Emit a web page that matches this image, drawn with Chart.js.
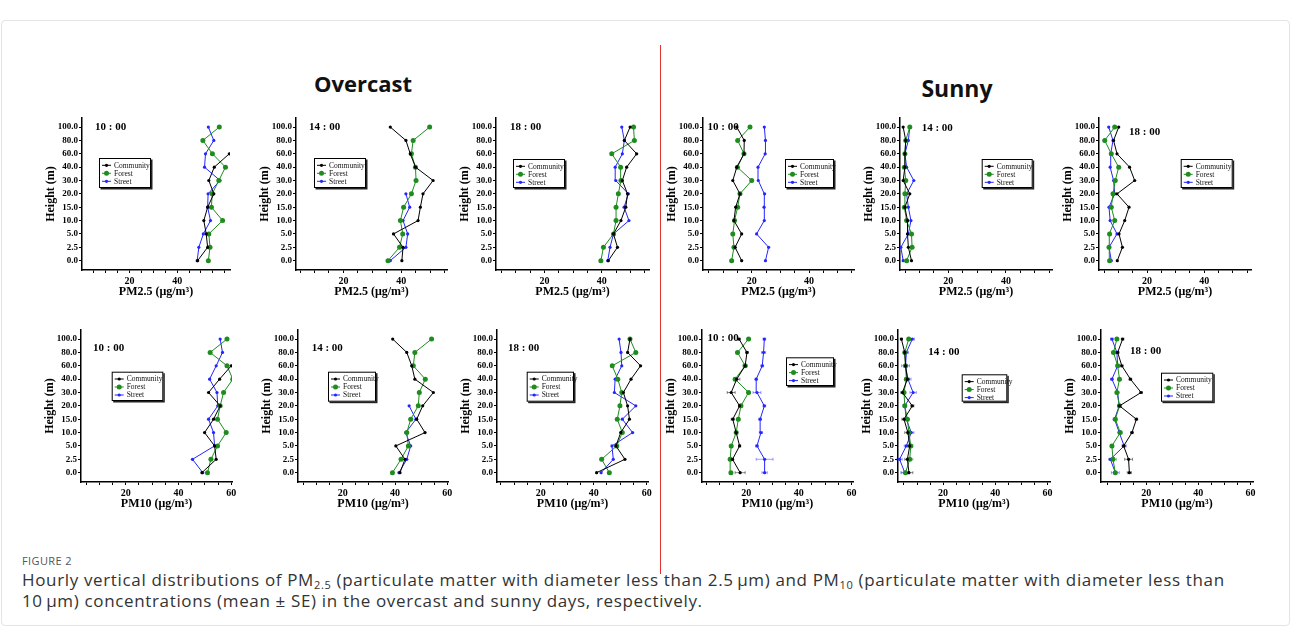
<!DOCTYPE html>
<html>
<head>
<meta charset="utf-8">
<script src="https://cdn.jsdelivr.net/npm/chart.js@4/dist/chart.umd.min.js"></script>
<style>
  body { margin: 0; background: #fff; width: 1291px; height: 637px; position: relative; overflow: hidden; font-family: 'Open Sans', sans-serif; }
  .frame { position: absolute; left: 1px; top: 20px; width: 1287px; height: 604px; border: 1px solid #e4e4e4; border-radius: 4px; }
  canvas { position: absolute; }
  .title { position: absolute; font-weight: 700; font-size: 22px; color: #111; transform: translateX(-50%); white-space: nowrap; }
  .divider { position: absolute; left: 660px; top: 45px; width: 1px; height: 529px; background: #e3312f; }
  .fig { position: absolute; left: 22px; top: 553px; font-size: 11px; color: #555; letter-spacing: 0.4px; }
  .cap { position: absolute; left: 22px; top: 569px; width: 1260px; font-size: 17px; letter-spacing: 0.65px; line-height: 21px; color: #333; white-space: nowrap; }
  .cap sub { font-size: 11px; vertical-align: -3px; line-height: 0; }
</style>
</head>
<body>
<div class="frame"></div>
<div class="title" style="left:363px;top:68px;">Overcast</div>
<div class="title" style="left:957px;top:72px;font-size:23px;">Sunny</div>
<div class="divider"></div>
<div class="fig">FIGURE 2</div>
<div class="cap">Hourly vertical distributions of PM<sub>2.5</sub> (particulate matter with diameter less than 2.5&#8201;&mu;m) and PM<sub>10</sub> (particulate matter with diameter less than<br>10&#8201;&mu;m) concentrations (mean &plusmn; SE) in the overcast and sunny days, respectively.</div>

<script>
/* ---------- data ---------- */
const heightLabels = ['0.0', '2.5', '5.0', '10.0', '15.0', '20.0', '30.0', '40.0', '60.0', '80.0', '100.0'];
const seriesNames = ['Community', 'Forest', 'Street'];

// PM2.5 overcast
const ov25_10_community = [48.6, 52.8, 52.2, 51.2, 52.8, 55.4, 53.3, 55.6, 61.9, null, null];
const ov25_10_forest    = [53.1, 53.8, 53.3, 59.1, 54.4, 54.7, 57.5, 60.3, 54.8, 50.8, 57.7];
const ov25_10_street    = [48.4, 49.1, 51.0, 54.0, 52.8, 53.0, 58.0, 51.5, 51.9, 55.4, 53.1];
const ov25_14_community = [40.2, 40.6, 37.3, 45.8, 46.6, 47.5, 51.0, 44.9, 43.1, 41.6, 36.2];
const ov25_14_forest    = [35.4, 39.4, 40.5, 39.7, 40.8, 43.5, 45.1, 44.9, 43.5, 44.1, 49.8];
const ov25_14_street    = [36.2, 41.6, 42.2, 40.6, 42.9, 41.6, null, null, null, null, null];
const ov25_18_community = [42.3, 45.5, 44.1, 46.7, 48.4, 49.0, 47.2, 48.7, 52.2, 47.9, 49.9];
const ov25_18_forest    = [39.7, 40.6, 44.1, 45.0, 45.0, 45.8, 46.7, 46.6, 43.5, 51.4, 51.1];
const ov25_18_street    = [42.1, 42.9, 44.1, 49.5, 47.8, 49.3, 44.9, 44.7, 47.2, 47.9, 47.0];

// PM2.5 sunny
const su25_10_community = [16.5, 14.2, 16.5, 13.8, 14.4, 15.9, 13.4, 14.8, 17.3, 17.4, 14.8];
const su25_10_forest    = [13.0, 13.8, 13.4, 14.0, 15.1, 15.9, 20.0, 15.0, 17.3, 15.1, 19.4];
const su25_10_street    = [24.8, 25.9, 21.7, 24.4, 24.3, 24.5, 22.3, 22.2, 24.7, 24.8, 24.4];
const su25_14_community = [7.2, 6.1, 5.8, 5.8, 4.9, 6.6, 4.3, 4.9, 4.9, 5.2, 4.3];
const su25_14_forest    = [5.5, 7.4, 7.2, 5.5, 4.7, 4.9, 5.2, 4.7, 4.9, 5.2, 6.6];
const su25_14_street    = [4.3, 3.5, 6.1, 7.0, 6.1, 5.5, 8.0, 5.5, 4.9, 6.1, 6.6];
const su25_18_community = [9.6, 11.4, 10.2, 12.2, 13.7, 9.5, 15.7, 13.9, 9.5, 8.3, 10.1];
const su25_18_forest    = [6.9, 6.7, 6.9, 8.7, 7.5, 8.1, 8.9, 10.1, 7.5, 5.2, 8.7];
const su25_18_street    = [7.5, 6.7, 9.5, 7.1, 6.7, 8.7, 8.3, 7.1, 7.3, 8.1, 6.6];

// PM10 overcast
const ov10_10_community = [48.9, 54.3, 53.7, 49.9, 53.3, 55.8, 51.4, 55.6, 60.0, null, null];
const ov10_10_forest    = [51.0, 52.3, 54.8, 58.1, 54.8, 55.8, 57.1, 60.6, 58.4, 52.0, 58.4];
const ov10_10_street    = [49.2, 45.3, 53.7, 53.3, 51.4, 54.9, 54.6, 51.8, 54.3, 56.7, 55.8];
const ov10_14_community = [41.9, 43.8, 40.3, 51.5, 48.3, 50.6, 54.7, 47.6, 46.4, 44.5, 39.1];
const ov10_14_forest    = [39.0, 42.3, 45.1, 44.5, 46.0, 48.9, 49.3, 51.6, 47.0, 47.6, 54.0];
const ov10_14_street    = [41.5, 44.5, 46.0, 44.1, 48.0, 45.4, null, null, null, null, null];
const ov10_18_community = [41.1, 51.8, 48.4, 50.2, 53.5, 52.8, 51.2, 54.1, 57.7, 52.8, 53.7];
const ov10_18_forest    = [45.9, 43.0, 48.7, 50.8, 48.9, 49.9, 50.6, 49.1, 47.0, 55.9, 53.7];
const ov10_18_street    = [42.8, 47.4, 46.9, 54.7, 50.8, 55.9, 47.8, 48.1, 50.6, 50.3, 49.6];

// PM10 sunny (mean and SE)
const su10_10_community = [17.7, 14.8, 17.5, 16.2, 14.9, 17.5, 14.3, 16.4, 19.6, 20.3, 17.3];
const su10_10_forest    = [14.2, 13.9, 14.3, 16.2, 17.0, 18.0, 20.9, 15.8, 19.6, 16.7, 20.9];
const su10_10_street    = [27.0, 27.0, 24.1, 25.6, 25.3, 26.9, 24.1, 23.8, 26.1, 26.6, 26.9];
const su10_10_community_se = [1.9, 0.4, 0.4, 0.5, 0.6, 0.4, 1.5, 1.2, 0.5, 0.5, 0.4];
const su10_10_forest_se    = [0.4, 0.5, 0.4, 0.5, 0.5, 0.5, 0.6, 0.5, 0.8, 0.5, 0.5];
const su10_10_street_se    = [1.0, 3.2, 0.5, 0.6, 0.5, 0.5, 1.5, 0.4, 0.5, 0.8, 0.5];
const su10_14_community = [6.9, 6.3, 7.2, 6.5, 5.0, 8.2, 4.4, 6.3, 5.6, 5.3, 4.0];
const su10_14_forest    = [5.6, 7.2, 7.6, 6.9, 6.3, 5.3, 5.0, 5.9, 5.6, 5.3, 6.8];
const su10_14_street    = [5.3, 3.3, 5.9, 7.8, 5.9, 5.3, 8.5, 6.5, 5.6, 5.9, 8.2];
const su10_14_community_se = [1.5, 1.0, 0.8, 1.2, 0.8, 0.6, 0.6, 0.8, 0.6, 0.5, 0.4];
const su10_14_forest_se    = [1.5, 1.2, 0.8, 0.8, 0.6, 0.5, 0.5, 0.6, 0.5, 0.5, 0.5];
const su10_14_street_se    = [1.5, 1.0, 0.8, 1.0, 0.8, 0.6, 1.2, 1.2, 1.5, 0.8, 0.8];
const su10_18_community = [13.5, 13.2, 11.3, 14.5, 16.2, 9.7, 18.0, 13.9, 10.6, 9.0, 10.9];
const su10_18_forest    = [8.1, 7.2, 6.8, 10.0, 8.1, 9.7, 8.7, 9.7, 9.0, 7.4, 8.7];
const su10_18_street    = [8.1, 6.2, 11.5, 9.6, 7.8, 9.6, 9.0, 6.8, 9.0, 8.7, 6.8];
const su10_18_community_se = [0.8, 1.5, 0.5, 0.5, 0.5, 0.5, 0.5, 0.5, 0.5, 0.5, 0.5];
const su10_18_forest_se    = [0.5, 1.3, 0.5, 0.5, 0.5, 0.5, 0.5, 0.5, 0.5, 0.8, 0.5];
const su10_18_street_se    = [1.5, 0.6, 0.8, 0.5, 0.5, 0.5, 0.5, 0.5, 0.5, 0.5, 0.5];

/* ---------- styling / layout ---------- */
const SERIF = "'Liberation Serif', 'Times New Roman', serif";
const seriesColors = ['#000000', '#1e8c1e', '#2525ff'];
const pointSizes = [1.6, 2.5, 1.6];
const Y_LEFT = 38;      // width reserved left of y axis (ticks + title)
const X_BOTTOM = 30;    // height reserved under x axis
const PAD_TOP = 8, PAD_RIGHT = 8;

// axis line position, x range, legend box and time label in page pixels
const panels = [
  { time: '10 : 00', pm: '2.5', top: 118, axisX: 81.5, axisR: 230, min: 0, max: 62.2, data: [ov25_10_community, ov25_10_forest, ov25_10_street], legend: [99, 158, 52, 30], label: [95, 127] },
  { time: '14 : 00', pm: '2.5', top: 118, axisX: 296, axisR: 446.5, min: 3.6, max: 55.8, data: [ov25_14_community, ov25_14_forest, ov25_14_street], legend: [314, 158, 52, 30], label: [309, 127] },
  { time: '18 : 00', pm: '2.5', top: 118, axisX: 495.7, axisR: 649, min: 3.1, max: 56.5, data: [ov25_18_community, ov25_18_forest, ov25_18_street], legend: [513, 159, 52, 29], label: [510, 127] },
  { time: '10 : 00', pm: '2.5', top: 118, axisX: 703, axisR: 854, min: 3.0, max: 55.7, data: [su25_10_community, su25_10_forest, su25_10_street], legend: [785, 159, 49, 29], label: [707.5, 127] },
  { time: '14 : 00', pm: '2.5', top: 118, axisX: 900, axisR: 1051.7, min: 3.2, max: 56, data: [su25_14_community, su25_14_forest, su25_14_street], legend: [981.7, 159, 51, 29], label: [921.7, 128] },
  { time: '18 : 00', pm: '2.5', top: 118, axisX: 1099.3, axisR: 1251, min: 3.2, max: 56.4, data: [su25_18_community, su25_18_forest, su25_18_street], legend: [1180.7, 159, 52, 29], label: [1129, 132] },
  { time: '10 : 00', pm: '10', top: 330, axisX: 81, axisR: 231.7, min: 3.0, max: 60.3, data: [ov10_10_community, ov10_10_forest, ov10_10_street], legend: [111.7, 371.7, 51.6, 29.3], label: [93, 348] },
  { time: '14 : 00', pm: '10', top: 330, axisX: 297.7, axisR: 448, min: 2.8, max: 60.3, data: [ov10_14_community, ov10_14_forest, ov10_14_street], legend: [328, 371.7, 48, 30], label: [311.7, 348] },
  { time: '18 : 00', pm: '10', top: 330, axisX: 496.7, axisR: 648, min: 3.5, max: 60.5, data: [ov10_18_community, ov10_18_forest, ov10_18_street], legend: [526.7, 371.7, 47.3, 30], label: [508, 348] },
  { time: '10 : 00', pm: '10', top: 330, axisX: 701.7, axisR: 852.7, min: 3.2, max: 60.6, data: [su10_10_community, su10_10_forest, su10_10_street], se: [su10_10_community_se, su10_10_forest_se, su10_10_street_se], legend: [786, 357.3, 48, 28.7], label: [707.5, 338] },
  { time: '14 : 00', pm: '10', top: 330, axisX: 898.3, axisR: 1050, min: 2.7, max: 61, data: [su10_14_community, su10_14_forest, su10_14_street], se: [su10_14_community_se, su10_14_forest_se, su10_14_street_se], legend: [961.7, 374.3, 45.6, 27.4], label: [928.3, 351.7] },
  { time: '18 : 00', pm: '10', top: 330, axisX: 1100.7, axisR: 1252.7, min: 2.6, max: 61, data: [su10_18_community, su10_18_forest, su10_18_street], se: [su10_18_community_se, su10_18_forest_se, su10_18_street_se], legend: [1161, 372.7, 52.3, 29], label: [1130, 351] }
];

/* ---------- plugins ---------- */
const errorBars = {
  id: 'errorBars',
  beforeDatasetsDraw(chart) {
    const { ctx, scales: { x, y } } = chart;
    chart.data.datasets.forEach(ds => {
      if (!ds.se) return;
      ctx.save();
      ctx.strokeStyle = ds.borderColor;
      ctx.globalAlpha = 0.45;
      ctx.lineWidth = 1;
      ds.data.forEach((p, i) => {
        if (p.x == null || !ds.se[i]) return;
        const x0 = x.getPixelForValue(p.x - ds.se[i]);
        const x1 = x.getPixelForValue(p.x + ds.se[i]);
        const py = y.getPixelForValue(p.y);
        ctx.beginPath();
        ctx.moveTo(x0, py); ctx.lineTo(x1, py);
        ctx.moveTo(x0, py - 1.5); ctx.lineTo(x0, py + 1.5);
        ctx.moveTo(x1, py - 1.5); ctx.lineTo(x1, py + 1.5);
        ctx.stroke();
      });
      ctx.restore();
    });
  }
};

const boxLegend = {
  id: 'boxLegend',
  afterDraw(chart, args, opts) {
    const { ctx } = chart;
    const [bx, by, bw, bh] = opts.box;
    ctx.save();
    ctx.fillStyle = '#222';
    ctx.fillRect(bx + 1.5, by + 1.5, bw, bh);
    ctx.fillStyle = '#fff';
    ctx.fillRect(bx, by, bw, bh);
    ctx.strokeStyle = '#000';
    ctx.lineWidth = 1;
    ctx.strokeRect(bx + 0.5, by + 0.5, bw - 1, bh - 1);
    ctx.font = '7.5px ' + SERIF;
    ctx.textBaseline = 'middle';
    chart.data.datasets.forEach((ds, i) => {
      const cy = by + 7.3 + i * 8;
      ctx.strokeStyle = ds.borderColor;
      ctx.beginPath();
      ctx.moveTo(bx + 3, cy); ctx.lineTo(bx + 12, cy);
      ctx.stroke();
      ctx.fillStyle = ds.borderColor;
      ctx.beginPath();
      ctx.arc(bx + 7.5, cy, ds.pointRadius, 0, Math.PI * 2);
      ctx.fill();
      ctx.fillStyle = '#111';
      ctx.fillText(ds.label, bx + 15, cy + 0.5);
    });
    // time of day
    ctx.font = 'bold 11px ' + SERIF;
    ctx.fillStyle = '#000';
    ctx.fillText(opts.time, opts.label[0], opts.label[1]);
    ctx.restore();
  }
};

/* ---------- build ---------- */
panels.forEach(p => {
  const left = Math.round(p.axisX - Y_LEFT);
  const top = p.top - PAD_TOP;
  const width = Math.round(p.axisR - left + PAD_RIGHT);
  const height = PAD_TOP + 152 + X_BOTTOM;
  const canvas = document.createElement('canvas');
  canvas.width = width;
  canvas.height = height;
  canvas.style.left = left + 'px';
  canvas.style.top = top + 'px';
  document.body.appendChild(canvas);

  const shownTicks = p.pm === '10' ? [20, 40, 60] : [20, 40];

  new Chart(canvas, {
    type: 'scatter',
    data: {
      datasets: p.data.map((vals, k) => ({
        label: seriesNames[k],
        data: vals.map((v, i) => ({ x: v, y: i })),
        se: p.se ? p.se[k] : null,
        showLine: true,
        borderColor: seriesColors[k],
        backgroundColor: seriesColors[k],
        borderWidth: 1,
        pointRadius: pointSizes[k],
        pointBorderWidth: 0,
        spanGaps: false
      }))
    },
    options: {
      responsive: false,
      animation: false,
      layout: { padding: { top: PAD_TOP, right: PAD_RIGHT, left: 0, bottom: 0 } },
      plugins: {
        legend: { display: false },
        tooltip: { enabled: false },
        boxLegend: {
          box: [p.legend[0] - left, p.legend[1] - top, p.legend[2], p.legend[3]],
          label: [p.label[0] - left, p.label[1] - top],
          time: p.time
        }
      },
      scales: {
        x: {
          type: 'linear',
          min: p.min,
          max: p.max,
          afterBuildTicks: s => {
            const t = [];
            for (let v = 5; v <= s.max; v += 5) if (v >= s.min) t.push({ value: v });
            s.ticks = t;
          },
          afterFit: s => { s.height = X_BOTTOM; },
          ticks: {
            autoSkip: false,
            maxRotation: 0,
            padding: 2,
            color: '#000',
            font: { family: SERIF, size: 10, weight: 'bold' },
            callback: v => shownTicks.includes(v) ? String(v) : ''
          },
          grid: { drawOnChartArea: false, drawTicks: true, tickLength: 3, tickColor: '#000', tickWidth: 1 },
          border: { display: true, color: '#000', width: 1.5 },
          title: {
            display: true,
            text: 'PM' + p.pm + ' (μg/m³)',
            color: '#000',
            padding: { top: 0, bottom: 1 },
            font: { family: SERIF, size: 12, weight: 'bold' }
          }
        },
        y: {
          type: 'linear',
          min: -0.7,
          max: 10.68,
          afterBuildTicks: s => { s.ticks = heightLabels.map((h, i) => ({ value: i })); },
          afterFit: s => { s.width = Y_LEFT; },
          ticks: {
            autoSkip: false,
            padding: 1,
            color: '#000',
            font: { family: SERIF, size: 9, weight: 'bold' },
            callback: v => heightLabels[v]
          },
          grid: { drawOnChartArea: false, drawTicks: true, tickLength: 3, tickColor: '#000', tickWidth: 1 },
          border: { display: true, color: '#000', width: 1.5 },
          title: {
            display: true,
            text: 'Height (m)',
            color: '#000',
            padding: 0,
            font: { family: SERIF, size: 12, weight: 'bold' }
          }
        }
      }
    },
    plugins: [errorBars, boxLegend]
  });
});
</script>
</body>
</html>
